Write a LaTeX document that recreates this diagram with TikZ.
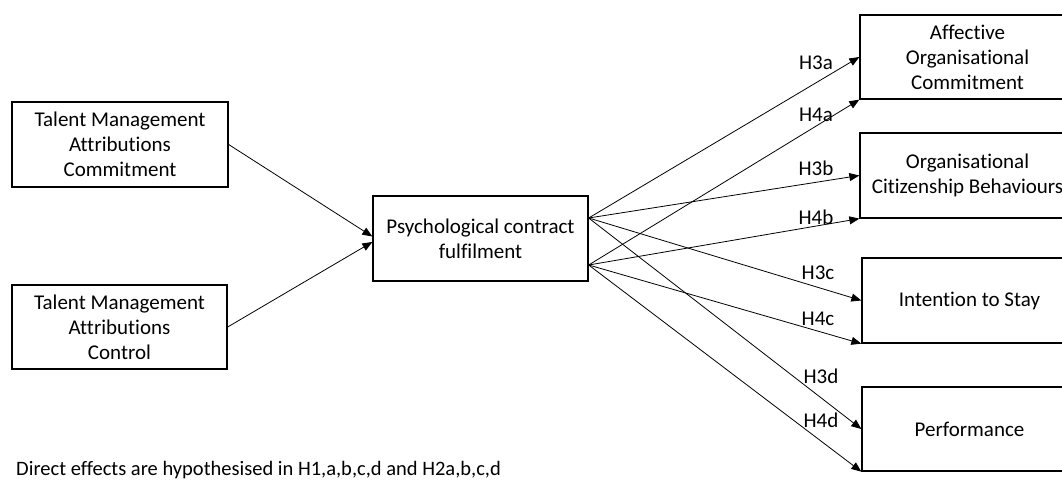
\documentclass[tikz,border=0pt]{standalone}
\usepackage{fontspec}
\setmainfont{Carlito}[Ligatures={NoCommon}]
\usetikzlibrary{arrows.meta}
\begin{document}
\begin{tikzpicture}[x=1pt,y=-1pt,
  every node/.style={font=\fontsize{21}{25}\selectfont},
  box/.style={draw=black, line width=1.3pt, rectangle, align=center,
    inner sep=0pt, minimum height=85pt},
  lbl/.style={inner sep=0pt},
  link/.style={draw=black, line width=0.8pt,
    -{Triangle[length=10pt,width=8pt]}}]
  \clip (0,0) rectangle (1062,479);
  \fill[white] (0,0) rectangle (1062,479);

  % antecedents
  \node[box, minimum width=216pt] (tmcom) at (120,144.5)
    {Talent Management\\Attributions\\Commitment};
  \node[box, minimum width=215pt, minimum height=84pt] (tmctl) at (119.5,327)
    {Talent Management\\Attributions\\Control};

  % mediator
  \node[box, minimum width=215pt] (pcf) at (480.5,238.5)
    {Psychological contract\\fulfilment};

  % outcomes
  \node[box, minimum width=215pt, minimum height=84pt] (aoc) at (967.5,57)
    {Affective\\Organisational\\Commitment};
  \node[box, minimum width=215pt] (ocb) at (967.5,175.5)
    {Organisational\\Citizenship Behaviours};
  \node[box, minimum width=215pt] (its) at (969.5,300.5)
    {Intention to Stay};
  \node[box, minimum width=215pt, minimum height=84pt] (perf) at (969.5,429)
    {Performance};

  % start points of the two bundles of paths
  \coordinate (hthree) at ([yshift=20.5pt]pcf.east);
  \coordinate (hfour) at ([yshift=-26.5pt]pcf.east);

  % antecedents -> mediator
  \draw[link] (tmcom.east) -- ([yshift=2pt]pcf.west);
  \draw[link] (tmctl.east) -- ([yshift=-3.5pt]pcf.west);

  % mediator -> outcomes
  \draw[link] (hthree) -- (aoc.west);
  \draw[link] (hthree) -- (ocb.west);
  \draw[link] (hthree) -- (its.west);
  \draw[link] (hthree) -- (perf.west);
  \draw[link] (hfour) -- (aoc.south west);
  \draw[link] (hfour) -- (ocb.south west);
  \draw[link] (hfour) -- (its.south west);
  \draw[link] (hfour) -- (perf.south west);

  % hypothesis labels
  \node[lbl] (l3a) at (816,63) {H3a};
  \node[lbl] (l4a) at (816,115) {H4a};
  \node[lbl] (l3b) at (816,168) {H3b};
  \node[lbl] (l4b) at (816,217) {H4b};
  \node[lbl] (l3c) at (818,273) {H3c};
  \node[lbl] (l4c) at (818,319) {H4c};
  \node[lbl] (l3d) at (821,376) {H3d};
  \node[lbl] (l4d) at (821,420) {H4d};

  % footnote
  \node[lbl, anchor=west, font=\fontsize{20.5}{25}\selectfont] (note) at (16,470)
    {Direct effects are hypothesised in H1,a,b,c,d and H2a,b,c,d};
\end{tikzpicture}
\end{document}
